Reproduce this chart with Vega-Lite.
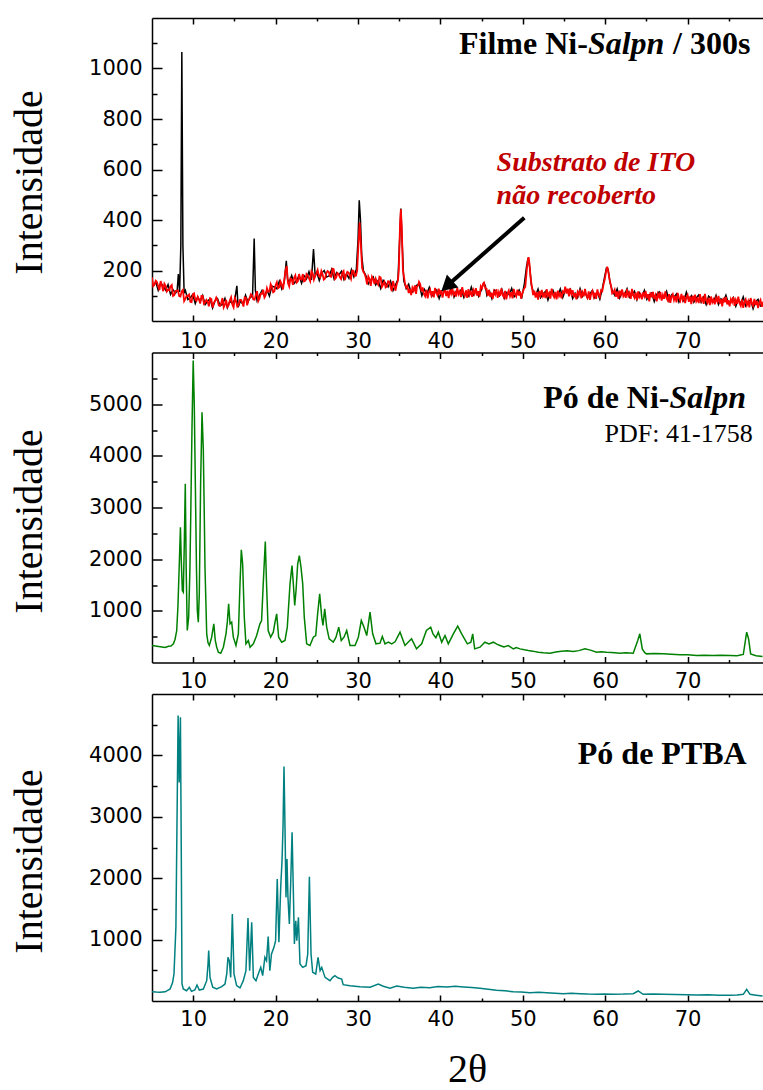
{
  "$schema": "https://vega.github.io/schema/vega-lite/v6.json",
  "background": "white",
  "padding": {"left": 9, "top": 17, "right": 0, "bottom": 80},
  "spacing": 31.5,
  "bounds": "flush",
  "resolve": {"scale": {"x": "independent", "y": "independent"}},
  "config": {
    "view": {"stroke": null},
    "axis": {
      "grid": false, "domainColor": "#000", "domainWidth": 1.5, "tickColor": "#000", "tickWidth": 1.5,
      "labelFont": "DejaVu Sans", "labelFontSize": 21, "labelColor": "#000",
      "titleFont": "Liberation Serif", "titleFontSize": 40, "titleFontWeight": "normal", "titleColor": "#000"
    }
  },
  "datasets": {
    "film": [
      {"x":5.15,"y":138},{"x":5.45,"y":155},{"x":5.75,"y":122},{"x":6.05,"y":151},{"x":6.35,"y":138},{"x":6.65,"y":122},{"x":6.95,"y":144},{"x":7.25,"y":105},{"x":7.55,"y":124},{"x":7.85,"y":110},{"x":8.05,"y":120},{"x":8.2,"y":186},{"x":8.35,"y":115},{"x":8.5,"y":300},{"x":8.62,"y":1065},{"x":8.75,"y":300},{"x":8.9,"y":110},{"x":9.05,"y":121},{"x":9.35,"y":85},{"x":9.65,"y":92},{"x":9.95,"y":105},{"x":10.25,"y":69},{"x":10.55,"y":96},{"x":10.85,"y":77},{"x":11.15,"y":101},{"x":11.45,"y":65},{"x":11.75,"y":79},{"x":12.05,"y":88},{"x":12.35,"y":52},{"x":12.65,"y":80},{"x":12.95,"y":89},{"x":13.25,"y":61},{"x":13.55,"y":66},{"x":13.85,"y":90},{"x":14.15,"y":53},{"x":14.45,"y":78},{"x":14.75,"y":70},{"x":15.05,"y":85},{"x":15.3,"y":139},{"x":15.45,"y":55},{"x":15.75,"y":80},{"x":16.05,"y":65},{"x":16.35,"y":102},{"x":16.65,"y":75},{"x":16.95,"y":97},{"x":17.2,"y":95},{"x":17.4,"y":327},{"x":17.55,"y":120},{"x":17.75,"y":81},{"x":18.05,"y":103},{"x":18.35,"y":121},{"x":18.65,"y":97},{"x":18.95,"y":123},{"x":19.25,"y":99},{"x":19.55,"y":138},{"x":19.85,"y":135},{"x":20.15,"y":128},{"x":20.45,"y":158},{"x":20.75,"y":127},{"x":21.05,"y":154},{"x":21.3,"y":238},{"x":21.45,"y":165},{"x":21.65,"y":155},{"x":21.95,"y":180},{"x":22.25,"y":149},{"x":22.55,"y":161},{"x":22.85,"y":180},{"x":23.15,"y":149},{"x":23.45,"y":180},{"x":23.75,"y":167},{"x":24.05,"y":195},{"x":24.35,"y":163},{"x":24.6,"y":285},{"x":24.8,"y":180},{"x":25.0,"y":193},{"x":25.3,"y":160},{"x":25.6,"y":190},{"x":25.9,"y":200},{"x":26.2,"y":174},{"x":26.5,"y":179},{"x":26.8,"y":204},{"x":27.1,"y":167},{"x":27.4,"y":192},{"x":27.7,"y":183},{"x":28.0,"y":197},{"x":28.3,"y":164},{"x":28.6,"y":187},{"x":28.9,"y":169},{"x":29.2,"y":204},{"x":29.5,"y":175},{"x":29.8,"y":205},{"x":30.0,"y":320},{"x":30.15,"y":478},{"x":30.3,"y":400},{"x":30.45,"y":260},{"x":30.65,"y":200},{"x":30.95,"y":180},{"x":31.25,"y":147},{"x":31.55,"y":163},{"x":31.85,"y":174},{"x":32.15,"y":143},{"x":32.45,"y":161},{"x":32.75,"y":129},{"x":33.05,"y":161},{"x":33.35,"y":150},{"x":33.65,"y":135},{"x":33.95,"y":158},{"x":34.25,"y":121},{"x":34.55,"y":142},{"x":34.85,"y":165},{"x":35.05,"y":320},{"x":35.2,"y":445},{"x":35.35,"y":320},{"x":35.55,"y":160},{"x":35.85,"y":128},{"x":36.15,"y":146},{"x":36.45,"y":111},{"x":36.75,"y":120},{"x":37.05,"y":140},{"x":37.4,"y":148},{"x":37.75,"y":100},{"x":38.05,"y":126},{"x":38.35,"y":108},{"x":38.65,"y":133},{"x":38.95,"y":98},{"x":39.25,"y":113},{"x":39.55,"y":123},{"x":39.85,"y":89},{"x":40.15,"y":118},{"x":40.45,"y":128},{"x":40.75,"y":102},{"x":41.05,"y":107},{"x":41.35,"y":132},{"x":41.65,"y":95},{"x":41.95,"y":120},{"x":42.25,"y":111},{"x":42.55,"y":125},{"x":42.85,"y":93},{"x":43.15,"y":116},{"x":43.45,"y":99},{"x":43.75,"y":134},{"x":44.05,"y":104},{"x":44.35,"y":122},{"x":44.65,"y":97},{"x":44.95,"y":122},{"x":45.25,"y":150},{"x":45.45,"y":140},{"x":45.65,"y":101},{"x":45.95,"y":118},{"x":46.25,"y":88},{"x":46.55,"y":122},{"x":46.85,"y":112},{"x":47.15,"y":100},{"x":47.45,"y":125},{"x":47.75,"y":90},{"x":48.05,"y":113},{"x":48.35,"y":104},{"x":48.65,"y":129},{"x":48.95,"y":96},{"x":49.25,"y":106},{"x":49.55,"y":122},{"x":49.85,"y":89},{"x":50.2,"y":150},{"x":50.45,"y":215},{"x":50.65,"y":250},{"x":50.85,"y":210},{"x":51.05,"y":140},{"x":51.25,"y":119},{"x":51.55,"y":101},{"x":51.85,"y":126},{"x":52.15,"y":92},{"x":52.45,"y":107},{"x":52.75,"y":117},{"x":53.05,"y":83},{"x":53.35,"y":112},{"x":53.65,"y":122},{"x":53.95,"y":96},{"x":54.25,"y":101},{"x":54.55,"y":127},{"x":54.85,"y":93},{"x":55.15,"y":121},{"x":55.45,"y":116},{"x":55.75,"y":127},{"x":56.05,"y":89},{"x":56.35,"y":110},{"x":56.65,"y":93},{"x":56.95,"y":128},{"x":57.25,"y":98},{"x":57.55,"y":116},{"x":57.85,"y":90},{"x":58.15,"y":108},{"x":58.45,"y":121},{"x":58.75,"y":92},{"x":59.05,"y":114},{"x":59.35,"y":87},{"x":59.65,"y":128},{"x":59.9,"y":170},{"x":60.15,"y":210},{"x":60.35,"y":205},{"x":60.6,"y":150},{"x":60.85,"y":121},{"x":61.15,"y":102},{"x":61.45,"y":127},{"x":61.75,"y":91},{"x":62.05,"y":113},{"x":62.35,"y":104},{"x":62.65,"y":128},{"x":62.95,"y":94},{"x":63.25,"y":103},{"x":63.55,"y":118},{"x":63.85,"y":84},{"x":64.15,"y":112},{"x":64.45,"y":95},{"x":64.75,"y":121},{"x":65.05,"y":86},{"x":65.35,"y":102},{"x":65.65,"y":111},{"x":65.95,"y":77},{"x":66.25,"y":105},{"x":66.55,"y":115},{"x":66.85,"y":88},{"x":67.15,"y":93},{"x":67.45,"y":117},{"x":67.75,"y":80},{"x":68.05,"y":104},{"x":68.35,"y":94},{"x":68.65,"y":107},{"x":68.95,"y":75},{"x":69.25,"y":97},{"x":69.55,"y":79},{"x":69.85,"y":114},{"x":70.15,"y":83},{"x":70.45,"y":100},{"x":70.75,"y":74},{"x":71.05,"y":91},{"x":71.35,"y":103},{"x":71.65,"y":74},{"x":71.95,"y":94},{"x":72.25,"y":65},{"x":72.55,"y":98},{"x":72.85,"y":88},{"x":73.15,"y":76},{"x":73.45,"y":101},{"x":73.75,"y":65},{"x":74.05,"y":88},{"x":74.35,"y":78},{"x":74.65,"y":102},{"x":74.95,"y":69},{"x":75.25,"y":78},{"x":75.55,"y":93},{"x":75.85,"y":58},{"x":76.15,"y":86},{"x":76.45,"y":69},{"x":76.75,"y":95},{"x":77.05,"y":60},{"x":77.35,"y":75},{"x":77.65,"y":84},{"x":77.95,"y":49},{"x":78.25,"y":77},{"x":78.55,"y":86},{"x":78.85,"y":59},{"x":79.15,"y":63}
    ],
    "ito": [
      {"x":5.0,"y":173},{"x":5.15,"y":138},{"x":5.3,"y":144},{"x":5.45,"y":160},{"x":5.6,"y":155},{"x":5.75,"y":138},{"x":5.9,"y":122},{"x":6.05,"y":158},{"x":6.2,"y":141},{"x":6.35,"y":118},{"x":6.5,"y":148},{"x":6.65,"y":139},{"x":6.8,"y":117},{"x":6.95,"y":124},{"x":7.1,"y":122},{"x":7.25,"y":138},{"x":7.4,"y":143},{"x":7.55,"y":99},{"x":7.7,"y":102},{"x":7.85,"y":119},{"x":8.0,"y":119},{"x":8.15,"y":121},{"x":8.3,"y":99},{"x":8.45,"y":97},{"x":8.6,"y":117},{"x":8.75,"y":123},{"x":8.9,"y":79},{"x":9.05,"y":88},{"x":9.2,"y":100},{"x":9.35,"y":99},{"x":9.5,"y":105},{"x":9.65,"y":76},{"x":9.8,"y":75},{"x":9.95,"y":105},{"x":10.1,"y":109},{"x":10.25,"y":85},{"x":10.4,"y":80},{"x":10.55,"y":96},{"x":10.7,"y":85},{"x":10.85,"y":69},{"x":11.0,"y":99},{"x":11.15,"y":99},{"x":11.3,"y":68},{"x":11.45,"y":73},{"x":11.6,"y":84},{"x":11.75,"y":77},{"x":11.9,"y":58},{"x":12.05,"y":90},{"x":12.2,"y":87},{"x":12.35,"y":53},{"x":12.5,"y":71},{"x":12.65,"y":80},{"x":12.8,"y":93},{"x":12.95,"y":83},{"x":13.1,"y":62},{"x":13.25,"y":60},{"x":13.4,"y":72},{"x":13.55,"y":91},{"x":13.7,"y":54},{"x":13.85,"y":65},{"x":14.0,"y":84},{"x":14.15,"y":56},{"x":14.3,"y":63},{"x":14.45,"y":82},{"x":14.6,"y":94},{"x":14.75,"y":65},{"x":14.9,"y":54},{"x":15.05,"y":91},{"x":15.2,"y":79},{"x":15.35,"y":57},{"x":15.5,"y":63},{"x":15.65,"y":83},{"x":15.8,"y":84},{"x":15.95,"y":74},{"x":16.1,"y":57},{"x":16.25,"y":94},{"x":16.4,"y":92},{"x":16.55,"y":62},{"x":16.7,"y":82},{"x":16.85,"y":91},{"x":17.0,"y":106},{"x":17.15,"y":101},{"x":17.3,"y":85},{"x":17.45,"y":84},{"x":17.6,"y":104},{"x":17.75,"y":118},{"x":17.9,"y":79},{"x":18.05,"y":89},{"x":18.2,"y":108},{"x":18.35,"y":108},{"x":18.5,"y":124},{"x":18.65,"y":93},{"x":18.8,"y":102},{"x":18.95,"y":130},{"x":19.1,"y":116},{"x":19.25,"y":117},{"x":19.4,"y":146},{"x":19.55,"y":135},{"x":19.7,"y":114},{"x":19.85,"y":117},{"x":20.0,"y":142},{"x":20.15,"y":154},{"x":20.3,"y":130},{"x":20.45,"y":134},{"x":20.6,"y":156},{"x":20.75,"y":144},{"x":20.9,"y":125},{"x":21.05,"y":162},{"x":21.2,"y":200},{"x":21.35,"y":218},{"x":21.5,"y":150},{"x":21.65,"y":137},{"x":21.8,"y":168},{"x":21.95,"y":165},{"x":22.1,"y":143},{"x":22.25,"y":171},{"x":22.4,"y":181},{"x":22.55,"y":152},{"x":22.7,"y":157},{"x":22.85,"y":186},{"x":23.0,"y":167},{"x":23.15,"y":164},{"x":23.3,"y":186},{"x":23.45,"y":157},{"x":23.6,"y":160},{"x":23.75,"y":186},{"x":23.9,"y":180},{"x":24.05,"y":170},{"x":24.2,"y":158},{"x":24.35,"y":197},{"x":24.5,"y":190},{"x":24.65,"y":163},{"x":24.8,"y":177},{"x":24.95,"y":189},{"x":25.1,"y":202},{"x":25.25,"y":179},{"x":25.4,"y":173},{"x":25.55,"y":198},{"x":25.7,"y":185},{"x":25.85,"y":164},{"x":26.0,"y":168},{"x":26.15,"y":189},{"x":26.3,"y":198},{"x":26.45,"y":195},{"x":26.6,"y":177},{"x":26.75,"y":175},{"x":26.9,"y":207},{"x":27.05,"y":205},{"x":27.2,"y":166},{"x":27.35,"y":172},{"x":27.5,"y":190},{"x":27.65,"y":186},{"x":27.8,"y":173},{"x":27.95,"y":166},{"x":28.1,"y":192},{"x":28.25,"y":198},{"x":28.4,"y":162},{"x":28.55,"y":179},{"x":28.7,"y":195},{"x":28.85,"y":192},{"x":29.0,"y":180},{"x":29.15,"y":167},{"x":29.3,"y":200},{"x":29.45,"y":199},{"x":29.6,"y":178},{"x":29.75,"y":179},{"x":29.9,"y":200},{"x":30.05,"y":300},{"x":30.2,"y":390},{"x":30.35,"y":300},{"x":30.5,"y":210},{"x":30.65,"y":195},{"x":30.8,"y":187},{"x":30.95,"y":171},{"x":31.1,"y":145},{"x":31.25,"y":177},{"x":31.4,"y":166},{"x":31.55,"y":139},{"x":31.7,"y":175},{"x":31.85,"y":165},{"x":32.0,"y":146},{"x":32.15,"y":167},{"x":32.3,"y":153},{"x":32.45,"y":144},{"x":32.6,"y":175},{"x":32.75,"y":172},{"x":32.9,"y":135},{"x":33.05,"y":144},{"x":33.2,"y":155},{"x":33.35,"y":133},{"x":33.5,"y":137},{"x":33.65,"y":157},{"x":33.8,"y":156},{"x":33.95,"y":136},{"x":34.1,"y":118},{"x":34.25,"y":158},{"x":34.4,"y":140},{"x":34.55,"y":120},{"x":34.7,"y":146},{"x":34.85,"y":160},{"x":34.95,"y":200},{"x":35.1,"y":380},{"x":35.2,"y":442},{"x":35.3,"y":380},{"x":35.45,"y":200},{"x":35.7,"y":150},{"x":35.85,"y":132},
      {"x":36.0,"y":138},{"x":36.15,"y":111},{"x":36.3,"y":127},{"x":36.45,"y":103},{"x":36.6,"y":132},{"x":36.75,"y":120},{"x":36.9,"y":141},{"x":37.05,"y":107},{"x":37.15,"y":135},{"x":37.3,"y":141},{"x":37.4,"y":155},{"x":37.55,"y":146},{"x":37.7,"y":117},{"x":37.85,"y":133},{"x":38.0,"y":107},{"x":38.15,"y":98},{"x":38.3,"y":123},{"x":38.45,"y":90},{"x":38.6,"y":114},{"x":38.75,"y":125},{"x":38.9,"y":102},{"x":39.05,"y":118},{"x":39.2,"y":94},{"x":39.35,"y":131},{"x":39.5,"y":111},{"x":39.65,"y":101},{"x":39.8,"y":128},{"x":39.95,"y":105},{"x":40.1,"y":122},{"x":40.25,"y":93},{"x":40.4,"y":115},{"x":40.55,"y":126},{"x":40.7,"y":99},{"x":40.85,"y":120},{"x":41.0,"y":91},{"x":41.15,"y":124},{"x":41.3,"y":108},{"x":41.45,"y":129},{"x":41.6,"y":103},{"x":41.75,"y":113},{"x":41.9,"y":97},{"x":42.05,"y":132},{"x":42.2,"y":106},{"x":42.35,"y":117},{"x":42.5,"y":95},{"x":42.65,"y":134},{"x":42.8,"y":110},{"x":42.95,"y":100},{"x":43.1,"y":121},{"x":43.25,"y":92},{"x":43.4,"y":126},{"x":43.55,"y":104},{"x":43.7,"y":115},{"x":43.85,"y":96},{"x":44.0,"y":123},{"x":44.15,"y":109},{"x":44.3,"y":130},{"x":44.45,"y":101},{"x":44.6,"y":118},{"x":44.75,"y":96},{"x":44.9,"y":138},{"x":45.05,"y":130},{"x":45.2,"y":149},{"x":45.3,"y":152},{"x":45.45,"y":129},{"x":45.6,"y":128},{"x":45.75,"y":100},{"x":45.9,"y":123},{"x":46.05,"y":96},{"x":46.2,"y":112},{"x":46.35,"y":88},{"x":46.5,"y":117},{"x":46.65,"y":105},{"x":46.8,"y":126},{"x":46.95,"y":92},{"x":47.1,"y":115},{"x":47.25,"y":100},{"x":47.4,"y":129},{"x":47.55,"y":103},{"x":47.7,"y":94},{"x":47.85,"y":119},{"x":48.0,"y":86},{"x":48.15,"y":110},{"x":48.3,"y":121},{"x":48.45,"y":98},{"x":48.6,"y":114},{"x":48.75,"y":90},{"x":48.9,"y":127},{"x":49.05,"y":107},{"x":49.2,"y":97},{"x":49.35,"y":124},{"x":49.5,"y":101},{"x":49.65,"y":118},{"x":49.8,"y":89},{"x":49.95,"y":111},{"x":50.15,"y":128},{"x":50.3,"y":135},{"x":50.45,"y":190},{"x":50.6,"y":240},{"x":50.7,"y":253},{"x":50.8,"y":230},{"x":50.95,"y":170},{"x":51.1,"y":136},{"x":51.25,"y":103},{"x":51.4,"y":120},{"x":51.55,"y":93},{"x":51.7,"y":114},{"x":51.85,"y":85},{"x":52.0,"y":118},{"x":52.15,"y":102},{"x":52.3,"y":123},{"x":52.45,"y":97},{"x":52.6,"y":107},{"x":52.75,"y":91},{"x":52.9,"y":126},{"x":53.05,"y":100},{"x":53.2,"y":111},{"x":53.35,"y":89},{"x":53.5,"y":128},{"x":53.65,"y":104},{"x":53.8,"y":94},{"x":53.95,"y":115},{"x":54.1,"y":86},{"x":54.25,"y":120},{"x":54.4,"y":98},{"x":54.55,"y":109},{"x":54.7,"y":90},{"x":54.85,"y":117},{"x":55.0,"y":112},{"x":55.15,"y":136},{"x":55.3,"y":109},{"x":55.45,"y":128},{"x":55.6,"y":98},{"x":55.75,"y":129},{"x":55.9,"y":107},{"x":56.05,"y":122},{"x":56.2,"y":94},{"x":56.35,"y":110},{"x":56.5,"y":86},{"x":56.65,"y":115},{"x":56.8,"y":103},{"x":56.95,"y":124},{"x":57.1,"y":90},{"x":57.25,"y":113},{"x":57.4,"y":98},{"x":57.55,"y":127},{"x":57.7,"y":101},{"x":57.85,"y":92},{"x":58.0,"y":117},{"x":58.15,"y":84},{"x":58.3,"y":108},{"x":58.45,"y":119},{"x":58.6,"y":96},{"x":58.75,"y":112},{"x":58.9,"y":88},{"x":59.05,"y":125},{"x":59.2,"y":105},{"x":59.35,"y":95},{"x":59.5,"y":122},{"x":59.65,"y":118},{"x":59.8,"y":145},{"x":59.95,"y":165},{"x":60.1,"y":195},{"x":60.25,"y":215},{"x":60.4,"y":190},{"x":60.55,"y":160},{"x":60.7,"y":141},{"x":60.85,"y":109},{"x":61.0,"y":113},{"x":61.15,"y":124},{"x":61.3,"y":96},{"x":61.45,"y":117},{"x":61.6,"y":88},{"x":61.75,"y":120},{"x":61.9,"y":104},{"x":62.05,"y":125},{"x":62.2,"y":98},{"x":62.35,"y":108},{"x":62.5,"y":92},{"x":62.65,"y":126},{"x":62.8,"y":100},{"x":62.95,"y":111},{"x":63.1,"y":88},{"x":63.25,"y":127},{"x":63.4,"y":102},{"x":63.55,"y":92},{"x":63.7,"y":113},{"x":63.85,"y":83},{"x":64.0,"y":117},{"x":64.15,"y":95},{"x":64.3,"y":105},{"x":64.45,"y":86},{"x":64.6,"y":113},{"x":64.75,"y":98},{"x":64.9,"y":119},{"x":65.05,"y":90},{"x":65.2,"y":106},{"x":65.35,"y":78},{"x":65.5,"y":113},{"x":65.65,"y":94},{"x":65.8,"y":115},{"x":65.95,"y":87},{"x":66.1,"y":102},{"x":66.25,"y":78},{"x":66.4,"y":107},{"x":66.55,"y":94},{"x":66.7,"y":115},{"x":66.85,"y":81},{"x":67.0,"y":103},{"x":67.15,"y":88},{"x":67.3,"y":117},{"x":67.45,"y":90},{"x":67.6,"y":81},{"x":67.75,"y":106},{"x":67.9,"y":72},{"x":68.05,"y":96},{"x":68.2,"y":106},{"x":68.35,"y":83},{"x":68.5,"y":99},{"x":68.65,"y":74},{"x":68.8,"y":111},{"x":68.95,"y":91},{"x":69.1,"y":80},{"x":69.25,"y":107},{"x":69.4,"y":84},{"x":69.55,"y":100},{"x":69.7,"y":71},{"x":69.85,"y":93},{"x":70.0,"y":103},{"x":70.15,"y":76},{"x":70.3,"y":97},{"x":70.45,"y":67},{"x":70.6,"y":100},{"x":70.75,"y":84},{"x":70.9,"y":104},{"x":71.05,"y":78},{"x":71.2,"y":88},{"x":71.35,"y":71},{"x":71.5,"y":106},{"x":71.65,"y":80},{"x":71.8,"y":90},{"x":71.95,"y":68},{"x":72.1,"y":107},{"x":72.25,"y":82},{"x":72.4,"y":72},{"x":72.55,"y":92},{"x":72.7,"y":63},{"x":72.85,"y":97},{"x":73.0,"y":74},{"x":73.15,"y":85},{"x":73.3,"y":66},{"x":73.45,"y":92},{"x":73.6,"y":78},{"x":73.75,"y":99},{"x":73.9,"y":69},{"x":74.05,"y":86},{"x":74.2,"y":58},{"x":74.35,"y":92},{"x":74.5,"y":74},{"x":74.65,"y":95},{"x":74.8,"y":66},{"x":74.95,"y":82},{"x":75.1,"y":58},{"x":75.25,"y":86},{"x":75.4,"y":74},{"x":75.55,"y":95},{"x":75.7,"y":60},{"x":75.85,"y":83},{"x":76.0,"y":68},{"x":76.15,"y":96},{"x":76.3,"y":70},{"x":76.45,"y":60},{"x":76.6,"y":85},{"x":76.75,"y":52},{"x":76.9,"y":75},{"x":77.05,"y":86},{"x":77.2,"y":63},{"x":77.35,"y":78},{"x":77.5,"y":54},{"x":77.65,"y":91},{"x":77.8,"y":70},{"x":77.95,"y":60},{"x":78.1,"y":87},{"x":78.25,"y":63},{"x":78.4,"y":80},{"x":78.55,"y":51},{"x":78.7,"y":72},{"x":78.85,"y":83},{"x":79.0,"y":56},{"x":79.15,"y":76},{"x":79.3,"y":47}
    ],
    "nisalpn": [
      {"x":5.0,"y":329},{"x":5.4,"y":320},{"x":5.8,"y":310},{"x":6.2,"y":300},{"x":6.6,"y":290},{"x":7.0,"y":315},{"x":7.3,"y":320},{"x":7.6,"y":361},{"x":7.8,"y":450},{"x":8.0,"y":619},{"x":8.15,"y":1100},{"x":8.3,"y":1845},{"x":8.45,"y":2619},{"x":8.55,"y":2000},{"x":8.68,"y":1393},{"x":8.8,"y":1361},{"x":8.92,"y":2300},{"x":9.04,"y":3458},{"x":9.15,"y":1800},{"x":9.28,"y":619},{"x":9.45,"y":877},{"x":9.6,"y":1800},{"x":9.7,"y":2812},{"x":9.85,"y":4500},{"x":10.0,"y":5844},{"x":10.13,"y":5000},{"x":10.26,"y":3458},{"x":10.4,"y":1800},{"x":10.5,"y":1006},{"x":10.62,"y":780},{"x":10.74,"y":1329},{"x":10.9,"y":3458},{"x":11.07,"y":4843},{"x":11.23,"y":4102},{"x":11.35,"y":2800},{"x":11.43,"y":1845},{"x":11.64,"y":555},{"x":11.8,"y":380},{"x":11.96,"y":329},{"x":12.24,"y":490},{"x":12.5,"y":748},{"x":12.68,"y":426},{"x":12.85,"y":300},{"x":13.05,"y":200},{"x":13.34,"y":180},{"x":13.66,"y":296},{"x":13.98,"y":555},{"x":14.15,"y":800},{"x":14.3,"y":1135},{"x":14.47,"y":748},{"x":14.67,"y":780},{"x":14.87,"y":490},{"x":15.19,"y":329},{"x":15.48,"y":555},{"x":15.68,"y":1523},{"x":15.84,"y":2180},{"x":16.0,"y":1910},{"x":16.2,"y":877},{"x":16.4,"y":361},{"x":16.69,"y":426},{"x":16.9,"y":296},{"x":17.3,"y":361},{"x":17.7,"y":522},{"x":18.1,"y":748},{"x":18.3,"y":813},{"x":18.5,"y":1523},{"x":18.75,"y":2341},{"x":18.9,"y":1523},{"x":19.1,"y":619},{"x":19.4,"y":490},{"x":19.72,"y":587},{"x":19.95,"y":800},{"x":20.13,"y":942},{"x":20.37,"y":490},{"x":20.74,"y":393},{"x":21.14,"y":426},{"x":21.42,"y":684},{"x":21.75,"y":1523},{"x":21.99,"y":1877},{"x":22.15,"y":1523},{"x":22.32,"y":1103},{"x":22.48,"y":1393},{"x":22.68,"y":1910},{"x":22.88,"y":2070},{"x":23.08,"y":1845},{"x":23.29,"y":1523},{"x":23.48,"y":877},{"x":23.77,"y":361},{"x":24.17,"y":329},{"x":24.58,"y":490},{"x":24.87,"y":522},{"x":25.1,"y":942},{"x":25.35,"y":1329},{"x":25.6,"y":877},{"x":25.75,"y":716},{"x":25.96,"y":1039},{"x":26.2,"y":684},{"x":26.5,"y":458},{"x":27.0,"y":393},{"x":27.33,"y":490},{"x":27.66,"y":684},{"x":27.97,"y":426},{"x":28.3,"y":490},{"x":28.63,"y":619},{"x":29.03,"y":329},{"x":29.64,"y":329},{"x":30.04,"y":490},{"x":30.4,"y":813},{"x":30.73,"y":684},{"x":31.06,"y":522},{"x":31.46,"y":974},{"x":31.78,"y":555},{"x":32.18,"y":361},{"x":32.67,"y":374},{"x":32.95,"y":503},{"x":33.28,"y":361},{"x":33.68,"y":393},{"x":34.09,"y":361},{"x":34.5,"y":400},{"x":35.1,"y":587},{"x":35.7,"y":329},{"x":36.5,"y":458},{"x":37.1,"y":264},{"x":37.73,"y":361},{"x":38.3,"y":619},{"x":38.82,"y":684},{"x":39.1,"y":555},{"x":39.45,"y":480},{"x":39.75,"y":587},{"x":40.16,"y":393},{"x":40.56,"y":522},{"x":40.96,"y":361},{"x":41.57,"y":555},{"x":42.1,"y":703},{"x":42.58,"y":555},{"x":43.27,"y":361},{"x":43.7,"y":393},{"x":43.92,"y":555},{"x":44.16,"y":264},{"x":44.8,"y":296},{"x":45.4,"y":393},{"x":45.9,"y":360},{"x":46.42,"y":393},{"x":46.9,"y":350},{"x":47.23,"y":329},{"x":47.7,"y":300},{"x":48.24,"y":329},{"x":48.85,"y":264},{"x":49.2,"y":290},{"x":49.66,"y":264},{"x":50.2,"y":245},{"x":50.67,"y":232},{"x":51.2,"y":220},{"x":51.88,"y":200},{"x":52.5,"y":190},{"x":53.3,"y":180},{"x":54.0,"y":205},{"x":54.7,"y":219},{"x":55.4,"y":225},{"x":56.1,"y":213},{"x":56.8,"y":230},{"x":57.55,"y":264},{"x":58.2,"y":240},{"x":58.95,"y":200},{"x":59.5,"y":210},{"x":60.17,"y":200},{"x":60.8,"y":195},{"x":61.8,"y":180},{"x":62.5,"y":190},{"x":63.4,"y":180},{"x":63.95,"y":426},{"x":64.2,"y":555},{"x":64.5,"y":264},{"x":64.8,"y":190},{"x":65.03,"y":167},{"x":66.0,"y":175},{"x":67.05,"y":167},{"x":68.0,"y":160},{"x":69.1,"y":148},{"x":70.0,"y":150},{"x":71.1,"y":135},{"x":72.0,"y":138},{"x":73.1,"y":135},{"x":74.0,"y":140},{"x":75.15,"y":135},{"x":76.0,"y":130},{"x":76.76,"y":155},{"x":77.17,"y":587},{"x":77.4,"y":458},{"x":77.65,"y":167},{"x":78.3,"y":130},{"x":79.1,"y":116}
    ],
    "ptba": [
      {"x":5.0,"y":152},{"x":5.5,"y":145},{"x":5.97,"y":141},{"x":6.6,"y":150},{"x":7.2,"y":195},{"x":7.5,"y":300},{"x":7.67,"y":440},{"x":7.9,"y":1200},{"x":8.07,"y":3372},{"x":8.17,"y":4648},{"x":8.3,"y":3560},{"x":8.45,"y":4620},{"x":8.55,"y":2500},{"x":8.64,"y":277},{"x":8.8,"y":195},{"x":9.2,"y":168},{"x":9.53,"y":223},{"x":9.8,"y":157},{"x":10.2,"y":179},{"x":10.46,"y":260},{"x":10.74,"y":179},{"x":11.23,"y":195},{"x":11.64,"y":331},{"x":11.8,"y":600},{"x":11.88,"y":820},{"x":12.04,"y":385},{"x":12.37,"y":223},{"x":12.85,"y":195},{"x":13.46,"y":233},{"x":13.86,"y":277},{"x":14.07,"y":440},{"x":14.22,"y":711},{"x":14.38,"y":657},{"x":14.55,"y":385},{"x":14.75,"y":1417},{"x":14.95,"y":440},{"x":15.27,"y":250},{"x":15.68,"y":212},{"x":16.08,"y":331},{"x":16.4,"y":494},{"x":16.65,"y":1352},{"x":16.85,"y":494},{"x":17.1,"y":1281},{"x":17.3,"y":385},{"x":17.62,"y":331},{"x":17.9,"y":440},{"x":18.2,"y":548},{"x":18.43,"y":412},{"x":18.7,"y":711},{"x":18.9,"y":657},{"x":19.1,"y":1048},{"x":19.3,"y":494},{"x":19.5,"y":765},{"x":19.8,"y":874},{"x":20.0,"y":983},{"x":20.2,"y":1987},{"x":20.4,"y":956},{"x":20.62,"y":1851},{"x":20.78,"y":2286},{"x":20.9,"y":2829},{"x":21.02,"y":3817},{"x":21.14,"y":2829},{"x":21.26,"y":1688},{"x":21.38,"y":2313},{"x":21.5,"y":1688},{"x":21.67,"y":1254},{"x":21.84,"y":1960},{"x":22.0,"y":2748},{"x":22.16,"y":1743},{"x":22.28,"y":929},{"x":22.45,"y":1308},{"x":22.57,"y":983},{"x":22.77,"y":1362},{"x":22.96,"y":602},{"x":23.29,"y":548},{"x":23.69,"y":575},{"x":23.9,"y":765},{"x":24.1,"y":2025},{"x":24.3,"y":765},{"x":24.5,"y":467},{"x":24.87,"y":440},{"x":25.15,"y":711},{"x":25.4,"y":494},{"x":25.6,"y":548},{"x":26.0,"y":385},{"x":26.6,"y":331},{"x":26.93,"y":385},{"x":27.2,"y":412},{"x":27.6,"y":374},{"x":28.02,"y":358},{"x":28.2,"y":266},{"x":29.03,"y":250},{"x":30.24,"y":233},{"x":31.46,"y":223},{"x":32.46,"y":277},{"x":33.07,"y":240},{"x":33.88,"y":210},{"x":34.7,"y":244},{"x":35.6,"y":225},{"x":36.7,"y":206},{"x":37.6,"y":225},{"x":38.7,"y":217},{"x":39.7,"y":235},{"x":40.8,"y":228},{"x":41.8,"y":240},{"x":42.8,"y":228},{"x":43.8,"y":218},{"x":44.8,"y":206},{"x":45.8,"y":190},{"x":46.8,"y":174},{"x":47.8,"y":165},{"x":48.85,"y":152},{"x":49.8,"y":145},{"x":50.87,"y":136},{"x":51.9,"y":142},{"x":52.9,"y":136},{"x":53.9,"y":128},{"x":54.9,"y":119},{"x":55.9,"y":125},{"x":56.94,"y":119},{"x":57.9,"y":112},{"x":58.97,"y":109},{"x":59.9,"y":115},{"x":60.98,"y":109},{"x":62.2,"y":112},{"x":63.4,"y":119},{"x":64.0,"y":163},{"x":64.6,"y":109},{"x":65.8,"y":115},{"x":67.05,"y":109},{"x":68.5,"y":104},{"x":70.0,"y":100},{"x":71.1,"y":98},{"x":72.5,"y":100},{"x":73.8,"y":95},{"x":75.1,"y":92},{"x":76.0,"y":98},{"x":76.76,"y":109},{"x":77.17,"y":190},{"x":77.57,"y":109},{"x":78.3,"y":95},{"x":79.1,"y":81}
    ]
  },
  "vconcat": [
    {
      "width": 611, "height": 303,
      "resolve": {"axis": {"x": "independent", "y": "independent"}},
      "layer": [
        {
          "data": {"name": "film"},
          "mark": {"type": "line", "color": "#000000", "strokeWidth": 1.5, "clip": true},
          "encoding": {
            "x": {"field": "x", "type": "quantitative", "scale": {"domain": [5, 79.15], "nice": false, "zero": false},
              "axis": {"orient": "bottom", "values": [10,15,20,25,30,35,40,45,50,55,60,65,70,75], "format": "d", "labelExpr": "datum.value % 10 === 0 ? datum.label : ''", "tickSize": {"condition": {"test": "datum.value % 10 === 0", "value": -6}, "value": -3}, "labelPadding": 15, "title": null}},
            "y": {"field": "y", "type": "quantitative", "scale": {"domain": [0, 1200], "nice": false, "zero": false},
              "axis": {"orient": "left", "values": [100,200,300,400,500,600,700,800,900,1000,1100], "format": "d", "labelExpr": "datum.value % 200 === 0 ? datum.label : ''", "tickSize": {"condition": {"test": "datum.value % 200 === 0", "value": -10}, "value": -5}, "labelPadding": 20, "title": "Intensidade", "titleX": -111, "titleY": 164, "titleAngle": -90, "titleAlign": "center", "titleBaseline": "alphabetic"}}
          }
        },
        {
          "data": {"name": "ito"},
          "mark": {"type": "line", "color": "#ff0000", "strokeWidth": 1.8, "clip": true},
          "encoding": {
            "x": {"field": "x", "type": "quantitative", "axis": null},
            "y": {"field": "y", "type": "quantitative", "axis": null}
          }
        },
        {
          "data": {"values": [{"x": 50.18, "y": 409, "x2": 41.03, "y2": 145.3}]},
          "mark": {"type": "rule", "color": "#000000", "strokeWidth": 4},
          "encoding": {
            "x": {"field": "x", "type": "quantitative", "axis": null},
            "y": {"field": "y", "type": "quantitative", "axis": null},
            "x2": {"field": "x2"},
            "y2": {"field": "y2"}
          }
        },
        {
          "data": {"values": [{"x": 41.03, "y": 145.3}]},
          "mark": {"type": "point", "shape": "triangle", "angle": 228.5, "size": 300, "filled": true, "color": "#000000", "opacity": 1},
          "encoding": {
            "x": {"field": "x", "type": "quantitative", "axis": null},
            "y": {"field": "y", "type": "quantitative", "axis": null}
          }
        },
        {
          "data": {"values": [{"x": 42.26, "y": 1057, "t": "Filme Ni-"}, {"x": 68.23, "y": 1057, "t": "/ 300s"}]},
          "mark": {"type": "text", "font": "Liberation Serif", "fontSize": 32, "fontWeight": "bold", "align": "left", "baseline": "alphabetic", "color": "#000000"},
          "encoding": {
            "x": {"field": "x", "type": "quantitative", "axis": {"orient": "top", "values": [10,15,20,25,30,35,40,45,50,55,60,65,70,75], "labels": false, "tickSize": {"condition": {"test": "datum.value % 10 === 0", "value": -6}, "value": -3}, "title": null}},
            "y": {"field": "y", "type": "quantitative", "axis": null},
            "text": {"field": "t"}
          }
        },
        {
          "data": {"values": [{"x": 57.9, "y": 1057, "t": "Salpn"}]},
          "mark": {"type": "text", "font": "Liberation Serif", "fontSize": 32, "fontWeight": "bold", "fontStyle": "italic", "align": "left", "baseline": "alphabetic", "color": "#000000"},
          "encoding": {
            "x": {"field": "x", "type": "quantitative", "axis": null},
            "y": {"field": "y", "type": "quantitative", "axis": null},
            "text": {"field": "t"}
          }
        },
        {
          "data": {"values": [{"x": 46.82, "y": 594, "t": "Substrato de ITO"}, {"x": 46.82, "y": 463, "t": "não recoberto"}]},
          "mark": {"type": "text", "font": "Liberation Serif", "fontSize": 28, "fontWeight": "bold", "fontStyle": "italic", "align": "left", "baseline": "alphabetic", "color": "#c00000"},
          "encoding": {
            "x": {"field": "x", "type": "quantitative", "axis": null},
            "y": {"field": "y", "type": "quantitative", "axis": null},
            "text": {"field": "t"}
          }
        }
      ]
    },
    {
      "width": 611, "height": 310,
      "resolve": {"axis": {"x": "independent", "y": "independent"}},
      "layer": [
        {
          "data": {"name": "nisalpn"},
          "mark": {"type": "line", "color": "#008000", "strokeWidth": 1.5, "clip": true},
          "encoding": {
            "x": {"field": "x", "type": "quantitative", "scale": {"domain": [5, 79.15], "nice": false, "zero": false},
              "axis": {"orient": "bottom", "values": [10,15,20,25,30,35,40,45,50,55,60,65,70,75], "format": "d", "labelExpr": "datum.value % 10 === 0 ? datum.label : ''", "tickSize": {"condition": {"test": "datum.value % 10 === 0", "value": -6}, "value": -3}, "labelPadding": 14, "title": null}},
            "y": {"field": "y", "type": "quantitative", "scale": {"domain": [0, 6000], "nice": false, "zero": false},
              "axis": {"orient": "left", "values": [500,1000,1500,2000,2500,3000,3500,4000,4500,5000,5500], "format": "d", "labelExpr": "datum.value % 1000 === 0 ? datum.label : ''", "tickSize": {"condition": {"test": "datum.value % 1000 === 0", "value": -10}, "value": -5}, "labelPadding": 20, "title": "Intensidade", "titleX": -111, "titleY": 168.5, "titleAngle": -90, "titleAlign": "center", "titleBaseline": "alphabetic"}}
          }
        },
        {
          "data": {"values": [{"x": 52.49, "y": 4931, "t": "Pó de Ni-"}]},
          "mark": {"type": "text", "font": "Liberation Serif", "fontSize": 32, "fontWeight": "bold", "align": "left", "baseline": "alphabetic", "color": "#000000"},
          "encoding": {
            "x": {"field": "x", "type": "quantitative", "axis": {"orient": "top", "values": [10,15,20,25,30,35,40,45,50,55,60,65,70,75], "labels": false, "tickSize": {"condition": {"test": "datum.value % 10 === 0", "value": -6}, "value": -3}, "title": null}},
            "y": {"field": "y", "type": "quantitative", "axis": null},
            "text": {"field": "t"}
          }
        },
        {
          "data": {"values": [{"x": 67.8, "y": 4931, "t": "Salpn"}]},
          "mark": {"type": "text", "font": "Liberation Serif", "fontSize": 32, "fontWeight": "bold", "fontStyle": "italic", "align": "left", "baseline": "alphabetic", "color": "#000000"},
          "encoding": {
            "x": {"field": "x", "type": "quantitative", "axis": null},
            "y": {"field": "y", "type": "quantitative", "axis": null},
            "text": {"field": "t"}
          }
        },
        {
          "data": {"values": [{"x": 77.9, "y": 4274, "t": "PDF: 41-1758"}]},
          "mark": {"type": "text", "font": "Liberation Serif", "fontSize": 26, "align": "right", "baseline": "alphabetic", "color": "#000000"},
          "encoding": {
            "x": {"field": "x", "type": "quantitative", "axis": null},
            "y": {"field": "y", "type": "quantitative", "axis": null},
            "text": {"field": "t"}
          }
        }
      ]
    },
    {
      "width": 611, "height": 307,
      "resolve": {"axis": {"x": "independent", "y": "independent"}},
      "layer": [
        {
          "data": {"name": "ptba"},
          "mark": {"type": "line", "color": "#008080", "strokeWidth": 1.5, "clip": true},
          "encoding": {
            "x": {"field": "x", "type": "quantitative", "scale": {"domain": [5, 79.15], "nice": false, "zero": false},
              "axis": {"orient": "bottom", "values": [10,15,20,25,30,35,40,45,50,55,60,65,70,75], "format": "d", "labelExpr": "datum.value % 10 === 0 ? datum.label : ''", "tickSize": {"condition": {"test": "datum.value % 10 === 0", "value": -6}, "value": -3}, "labelPadding": 13, "title": "2θ", "titleX": 315, "titleY": 80, "titleAngle": 0, "titleAlign": "center", "titleBaseline": "alphabetic"}},
            "y": {"field": "y", "type": "quantitative", "scale": {"domain": [0, 5000], "nice": false, "zero": false},
              "axis": {"orient": "left", "values": [500,1000,1500,2000,2500,3000,3500,4000,4500], "format": "d", "labelExpr": "datum.value % 1000 === 0 ? datum.label : ''", "tickSize": {"condition": {"test": "datum.value % 1000 === 0", "value": -10}, "value": -5}, "labelPadding": 20, "title": "Intensidade", "titleX": -111, "titleY": 167, "titleAngle": -90, "titleAlign": "center", "titleBaseline": "alphabetic"}}
          }
        },
        {
          "data": {"values": [{"x": 77.17, "y": 3856, "t": "Pó de PTBA"}]},
          "mark": {"type": "text", "font": "Liberation Serif", "fontSize": 32, "fontWeight": "bold", "align": "right", "baseline": "alphabetic", "color": "#000000"},
          "encoding": {
            "x": {"field": "x", "type": "quantitative", "axis": {"orient": "top", "values": [10,15,20,25,30,35,40,45,50,55,60,65,70,75], "labels": false, "tickSize": {"condition": {"test": "datum.value % 10 === 0", "value": -6}, "value": -3}, "title": null}},
            "y": {"field": "y", "type": "quantitative", "axis": null},
            "text": {"field": "t"}
          }
        }
      ]
    }
  ]
}
